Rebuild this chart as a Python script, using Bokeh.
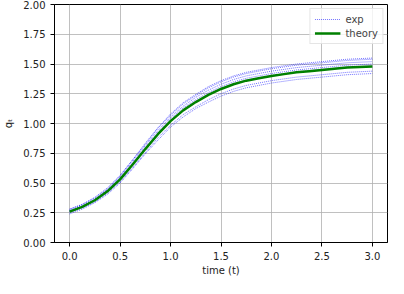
from bokeh.plotting import figure
from bokeh.models import Legend, LegendItem, FixedTicker, NumeralTickFormatter, Range1d
from bokeh.embed import file_html
from bokeh.resources import INLINE

t = [0.0, 0.125, 0.25, 0.375, 0.5, 0.625, 0.75, 0.875, 1.0, 1.125, 1.25, 1.375, 1.5,
     1.625, 1.75, 1.875, 2.0, 2.125, 2.25, 2.375, 2.5, 2.625, 2.75, 2.875, 3.0]
theory = [0.26, 0.30, 0.355, 0.43, 0.53, 0.655, 0.785, 0.91, 1.02, 1.11, 1.18, 1.24, 1.29,
          1.33, 1.36, 1.38, 1.40, 1.415, 1.43, 1.44, 1.45, 1.46, 1.47, 1.475, 1.48]
exp1 = [0.28, 0.32, 0.38, 0.46, 0.565, 0.695, 0.835, 0.965, 1.08, 1.175, 1.245, 1.31, 1.36,
        1.40, 1.43, 1.45, 1.47, 1.485, 1.50, 1.51, 1.52, 1.53, 1.54, 1.545, 1.55]
exp2 = [0.28, 0.32, 0.375, 0.45, 0.56, 0.695, 0.825, 0.96, 1.07, 1.165, 1.235, 1.30, 1.35,
        1.39, 1.42, 1.44, 1.46, 1.475, 1.49, 1.50, 1.51, 1.52, 1.53, 1.535, 1.54]
exp3 = [0.27, 0.31, 0.365, 0.445, 0.55, 0.68, 0.815, 0.94, 1.055, 1.145, 1.22, 1.28, 1.33,
        1.37, 1.40, 1.42, 1.44, 1.455, 1.47, 1.48, 1.49, 1.50, 1.51, 1.515, 1.52]
exp4 = [0.265, 0.305, 0.36, 0.44, 0.54, 0.665, 0.80, 0.925, 1.04, 1.13, 1.20, 1.26, 1.31,
        1.35, 1.38, 1.40, 1.42, 1.435, 1.45, 1.46, 1.47, 1.48, 1.49, 1.495, 1.50]
exp5 = [0.26, 0.30, 0.355, 0.43, 0.535, 0.66, 0.79, 0.915, 1.025, 1.115, 1.185, 1.245, 1.295,
        1.335, 1.365, 1.385, 1.405, 1.42, 1.435, 1.445, 1.455, 1.465, 1.475, 1.48, 1.485]
exp6 = [0.25, 0.29, 0.34, 0.415, 0.51, 0.63, 0.755, 0.88, 0.985, 1.075, 1.14, 1.20, 1.25,
        1.29, 1.32, 1.34, 1.36, 1.375, 1.39, 1.40, 1.41, 1.42, 1.43, 1.435, 1.44]
exp7 = [0.24, 0.28, 0.335, 0.405, 0.50, 0.62, 0.745, 0.86, 0.97, 1.055, 1.125, 1.18, 1.23,
        1.27, 1.30, 1.32, 1.34, 1.355, 1.37, 1.38, 1.39, 1.40, 1.41, 1.415, 1.42]
exp_series = [exp1, exp2, exp3, exp4, exp5, exp6, exp7]

x_ticks = [0.0, 0.5, 1.0, 1.5, 2.0, 2.5, 3.0]
y_ticks = [0.0, 0.25, 0.5, 0.75, 1.0, 1.25, 1.5, 1.75, 2.0]

FONT = "DejaVu Sans"

p = figure(width=388, height=278, output_backend="svg", toolbar_location=None,
           x_range=Range1d(-0.15, 3.15), y_range=Range1d(0, 2.0),
           min_border_left=40, min_border_right=1, min_border_top=4, min_border_bottom=4)
p.background_fill_color = "white"
p.border_fill_color = "white"
p.outline_line_color = "black"
p.outline_line_width = 1

exp_renderers = []
for s in exp_series:
    r = p.line(t, s, line_color="blue", line_width=0.8, line_dash="1 1", line_alpha=0.7)
    exp_renderers.append(r)
th = p.line(t, theory, line_color="green", line_width=2.5)

legend = Legend(items=[LegendItem(label="exp", renderers=[exp_renderers[0]]),
                       LegendItem(label="theory", renderers=[th])],
                location="top_right")
legend.label_text_font = FONT
legend.label_text_font_size = "10px"
legend.label_height = 12
legend.glyph_height = 12
legend.glyph_width = 26
legend.spacing = 2
legend.padding = 4
legend.margin = 4
legend.border_line_color = "#cccccc"
legend.background_fill_alpha = 0.8
p.add_layout(legend)

for ax in (p.xaxis, p.yaxis):
    ax.axis_line_color = "black"
    ax.major_tick_line_color = "black"
    ax.minor_tick_line_color = None
    ax.major_tick_in = 0
    ax.major_tick_out = 4
    ax.major_label_text_font = FONT
    ax.major_label_text_font_size = "10px"
    ax.major_label_text_color = "#222222"
    ax.axis_label_text_font = FONT
    ax.axis_label_text_font_size = "10px"
    ax.axis_label_text_font_style = "normal"
    ax.axis_label_text_color = "#222222"

p.xaxis.ticker = FixedTicker(ticks=x_ticks)
p.yaxis.ticker = FixedTicker(ticks=y_ticks)
p.xaxis.formatter = NumeralTickFormatter(format="0.0")
p.yaxis.formatter = NumeralTickFormatter(format="0.00")
p.xaxis.axis_label = "time (t)"
p.yaxis.axis_label = "qₜ"
p.xaxis.axis_label_standoff = 2
p.yaxis.axis_label_standoff = 6

p.xgrid.grid_line_color = "#b0b0b0"
p.ygrid.grid_line_color = "#b0b0b0"
p.xgrid.grid_line_width = 0.8
p.ygrid.grid_line_width = 0.8

open("out.html", "w").write(file_html(p, INLINE))
